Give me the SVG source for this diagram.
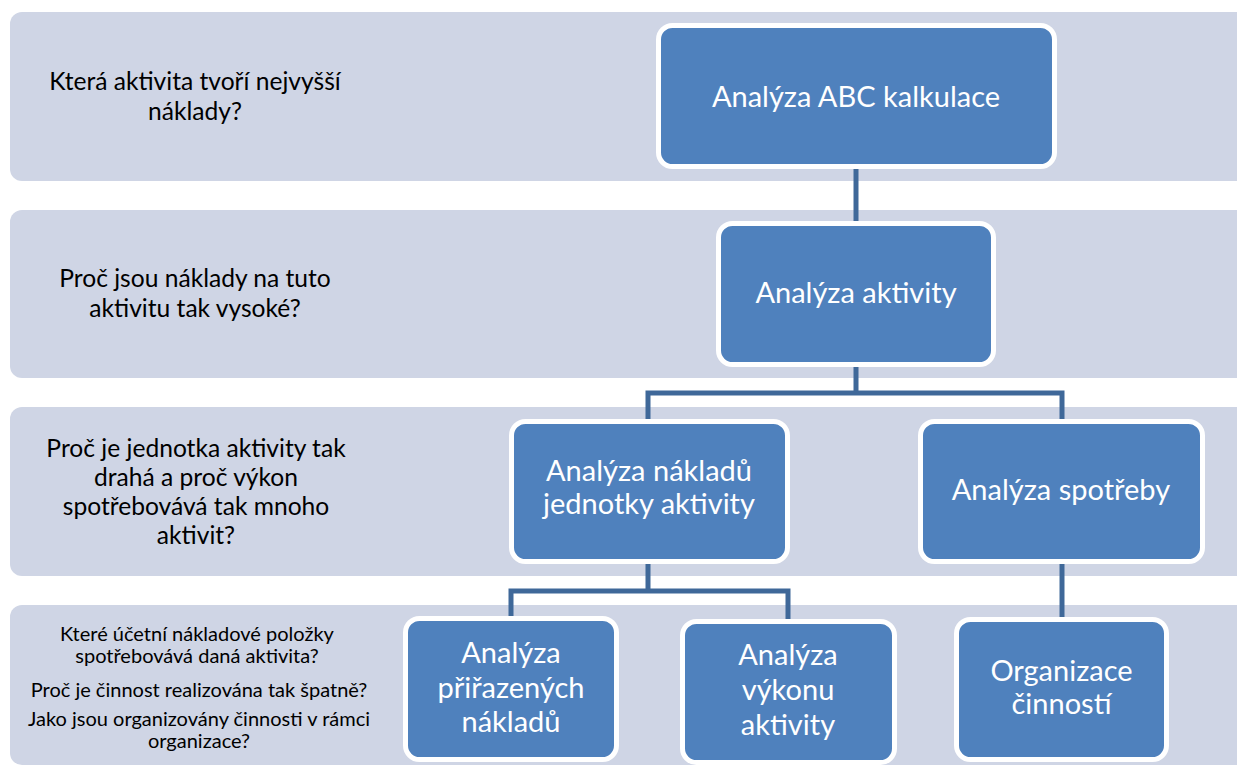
<svg xmlns="http://www.w3.org/2000/svg" width="1237" height="767" viewBox="0 0 1237 767">
<style>
.band{fill:#CFD5E5;}
.node{fill:#4F81BD;stroke:#FFFFFF;stroke-width:5;}
.nt{font-family:Lato,"Open Sans","Liberation Sans",sans-serif;font-size:29px;fill:#FFFFFF;text-anchor:middle;}
.lt{font-family:Lato,"Open Sans","Liberation Sans",sans-serif;font-size:24.6px;fill:#000000;text-anchor:middle;}
.st{font-family:Lato,"Open Sans","Liberation Sans",sans-serif;font-size:20px;fill:#000000;text-anchor:middle;}
.conn{fill:none;stroke:#3F6899;stroke-width:5;stroke-linejoin:miter;}
</style>
<rect width="1237" height="767" fill="#FFFFFF"/>
<g id="bands">
<rect class="band" x="10" y="12" width="1250" height="169" rx="12"/>
<rect class="band" x="10" y="210" width="1250" height="168" rx="12"/>
<rect class="band" x="10" y="407" width="1250" height="169" rx="12"/>
<rect class="band" x="10" y="605" width="1250" height="160" rx="12"/>
</g>
<g id="questions">
<text class="lt" x="195" y="90">Která aktivita tvoří nejvyšší</text>
<text class="lt" x="195" y="120">náklady?</text>
<text class="lt" x="195" y="287">Proč jsou náklady na tuto</text>
<text class="lt" x="195" y="317">aktivitu tak vysoké?</text>
<text class="lt" x="196" y="457">Proč je jednotka aktivity tak</text>
<text class="lt" x="196" y="486">drahá a proč výkon</text>
<text class="lt" x="196" y="515">spotřebovává tak mnoho</text>
<text class="lt" x="196" y="544">aktivit?</text>
<text class="st" x="197" y="641">Které účetní nákladové položky</text>
<text class="st" x="197" y="663">spotřebovává daná aktivita?</text>
<text class="st" x="199" y="697">Proč je činnost realizována tak špatně?</text>
<text class="st" x="199" y="726">Jako jsou organizovány činnosti v rámci</text>
<text class="st" x="199" y="748">organizace?</text>
</g>
<g id="connectors">
<path class="conn" d="M856 166 V224"/>
<path class="conn" d="M856 364 V393 M648 422 V393 H1062 V422"/>
<path class="conn" d="M648 561 V591 M511 619 V591 H788 V622"/>
<path class="conn" d="M1062 561 V620"/>
</g>
<g id="node-abc">
<rect class="node" x="658.5" y="25.5" width="396" height="141" rx="14"/>
<text class="nt" x="856" y="107">Analýza ABC kalkulace</text>
</g>
<g id="node-aktivity">
<rect class="node" x="718.5" y="223.5" width="275" height="141" rx="14"/>
<text class="nt" x="856" y="303">Analýza aktivity</text>
</g>
<g id="node-naklady-jednotky">
<rect class="node" x="511.5" y="421.5" width="276" height="140" rx="14"/>
<text class="nt" x="649" y="481">Analýza nákladů</text>
<text class="nt" x="649" y="514">jednotky aktivity</text>
</g>
<g id="node-spotreby">
<rect class="node" x="920.5" y="421.5" width="282" height="140" rx="14"/>
<text class="nt" x="1061" y="500">Analýza spotřeby</text>
</g>
<g id="node-prirazenych">
<rect class="node" x="405.5" y="618.5" width="211" height="141" rx="14"/>
<text class="nt" x="511" y="663">Analýza</text>
<text class="nt" x="511" y="698">přiřazených</text>
<text class="nt" x="511" y="732">nákladů</text>
</g>
<g id="node-vykonu">
<rect class="node" x="682.5" y="621.5" width="212" height="141" rx="14"/>
<text class="nt" x="788" y="665">Analýza</text>
<text class="nt" x="788" y="700">výkonu</text>
<text class="nt" x="788" y="735">aktivity</text>
</g>
<g id="node-organizace">
<rect class="node" x="956.5" y="619.5" width="210" height="140" rx="14"/>
<text class="nt" x="1061.5" y="681">Organizace</text>
<text class="nt" x="1061.5" y="714">činností</text>
</g>
</svg>
